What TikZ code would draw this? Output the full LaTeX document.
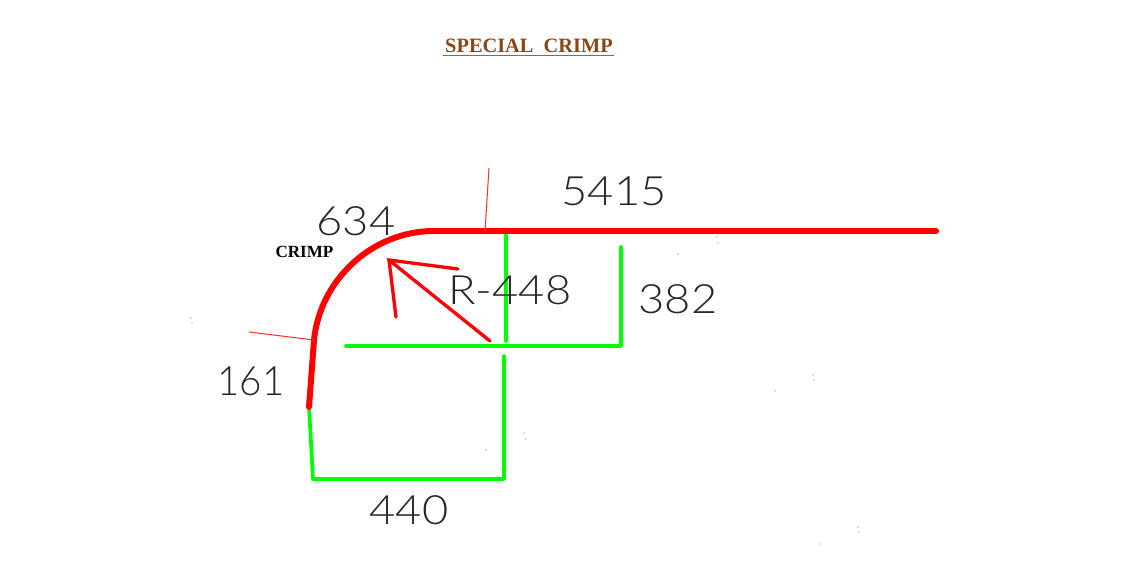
\documentclass[tikz,border=0pt]{standalone}
\usepackage{fontspec}
\usepackage{xcolor}
\usepackage{tikz}
\setmainfont{Liberation Serif}
\newfontfamily\dimfont{Lato Light}
\definecolor{crimpred}{RGB}{255,0,0}
\definecolor{dimgreen}{RGB}{0,255,0}
\definecolor{titlebrown}{RGB}{140,70,20}
\tikzset{
    profile/.style={crimpred, line width=3.4pt, line cap=round, line join=round},
    tick/.style={crimpred!80, line width=0.6pt},
    leader/.style={crimpred, line width=1.9pt, line cap=round},
    dimline/.style={dimgreen, line width=2.1pt, line cap=round, line join=round},
    dimtext/.style={inner sep=0pt, text=black!85, font=\dimfont\fontsize{23}{23}\selectfont, xscale=1.12}
}

\begin{document}
\begin{tikzpicture}[x=0.02cm, y=-0.02cm]
    \useasboundingbox (0,0) rectangle (1138,567);
    \coordinate (flatend) at (936,231);
    \coordinate (arcstart) at (434,231);
    \coordinate (arcend) at (314,340);
    \coordinate (lipend) at (309,407);
    \coordinate (cornerbl) at (313,479);
    \coordinate (cornerbr) at (504,479);
    \coordinate (gapbelow) at (504,356);
    \coordinate (gapabove) at (506,341);
    \coordinate (vtop) at (506,235);
    \coordinate (hleft) at (346,346);
    \coordinate (cornerr) at (621,346);
    \coordinate (rtop) at (621,247);
    \coordinate (centre) at (490,341);
    \coordinate (tip) at (389,260);
    \coordinate (barbtop) at (458,269);
    \coordinate (barbleft) at (396,317);
    \coordinate (tickflat) at (485,231);
    \coordinate (tickflatend) at (489,168);
    \coordinate (tickarcend) at (249,332);
    % green dimension lines
    \draw[dimline] (lipend) -- (cornerbl) -- (cornerbr) -- (gapbelow);
    \draw[dimline] (vtop) -- (gapabove);
    \draw[dimline] (hleft) -- (cornerr) -- (rtop);
    % red profile
    \draw[profile] (flatend) -- (arcstart) .. controls (372,231) and (320,280) .. (arcend) -- (lipend);
    \draw[tick] (tickflat) -- (tickflatend);
    \draw[tick] (arcend) -- (tickarcend);
    \draw[leader] (centre) -- (tip);
    \draw[leader] (barbtop) -- (tip) -- (barbleft);
    % labels
    \node[inner sep=0pt, text=titlebrown, font=\bfseries\fontsize{11.6}{12}\selectfont] (title) at (529,46) {SPECIAL\ \ CRIMP};
    \coordinate (ulleft) at (443,55.5);
    \coordinate (ulright) at (614,55.5);
    \draw[titlebrown!85, line width=0.9pt] (ulleft) -- (ulright);
    \node[inner sep=0pt, font=\bfseries\fontsize{9.7}{10}\selectfont] (crimp) at (304.5,252) {CRIMP};
    \node[dimtext] (flatdim) at (614,191) {5415};
    \node[dimtext] (arcdim) at (356,221) {634};
    \node[dimtext] (raddim) at (510,290) {R-448};
    \node[dimtext] (risedim) at (678,299) {382};
    \node[dimtext, xscale=0.85] (lipdim) at (251,381) {161};
    \node[dimtext] (basedim) at (409,510) {440};
    % specks
    \foreach \px/\py in {191/318,192/323,717/237,718/243,678/254,813/375,814/380,775/391,524/433,526/439,486/450,858/527,859/532,820/544}
        \fill[black!60] (\px,\py) circle (0.3pt);
\end{tikzpicture}
\end{document}
